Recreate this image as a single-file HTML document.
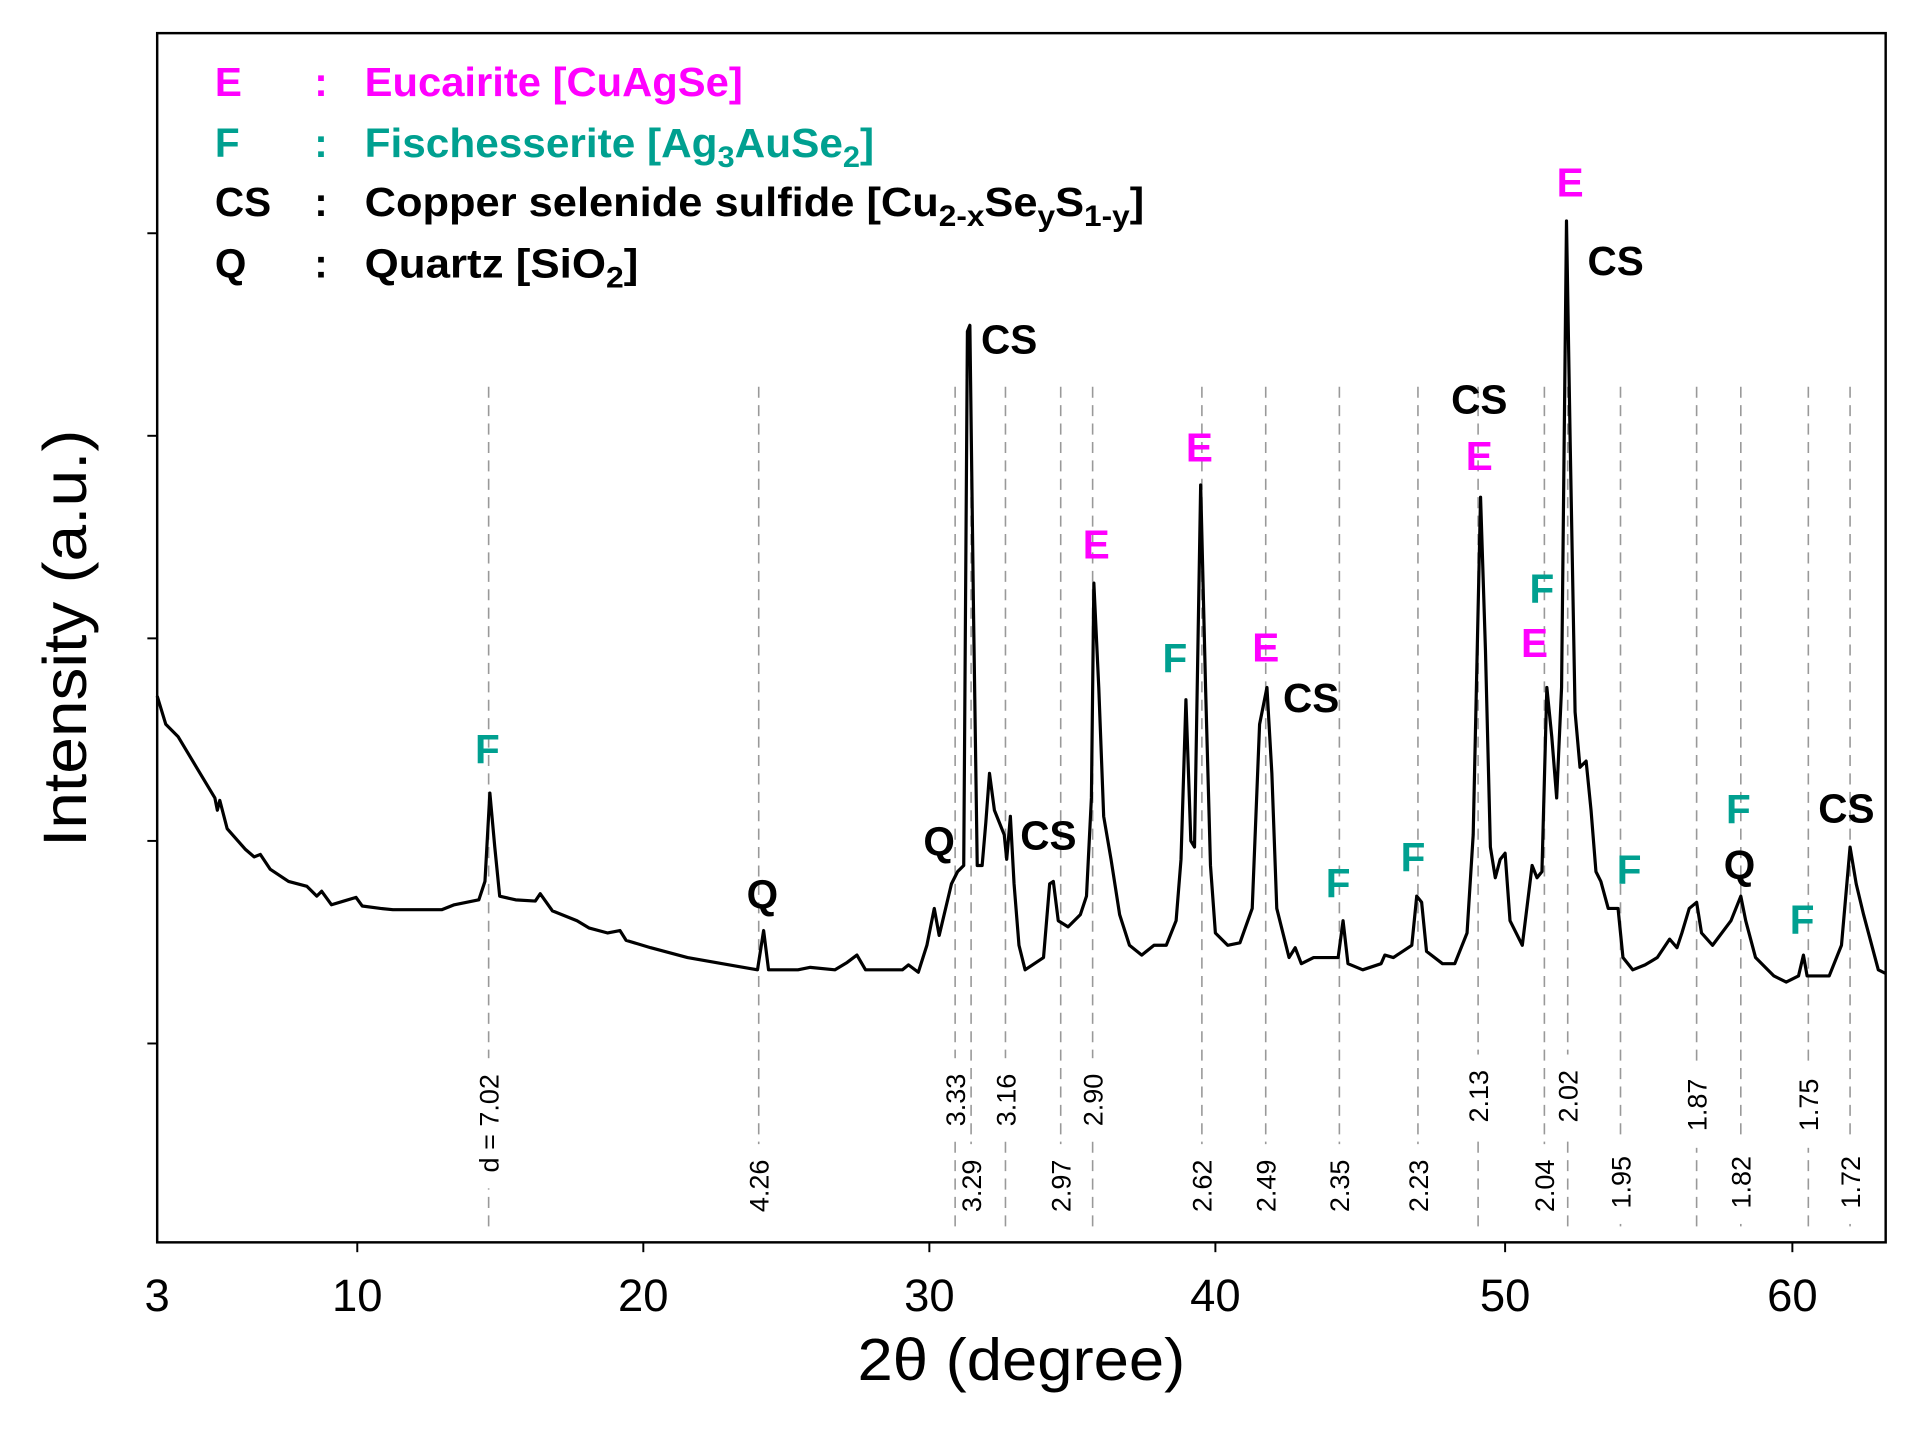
<!DOCTYPE html>
<html><head><meta charset="utf-8"><style>html,body{margin:0;padding:0;background:#fff}svg{display:block}</style></head>
<body>
<svg width="1925" height="1433" viewBox="0 0 1568 1167.3" xmlns="http://www.w3.org/2000/svg" font-family="Liberation Sans, sans-serif">
<rect x="128" y="27" width="1408" height="985" fill="none" stroke="#000" stroke-width="2"/>
<g stroke="#000" stroke-width="1.6">
<line x1="120" y1="190" x2="128" y2="190"/><line x1="120" y1="355" x2="128" y2="355"/><line x1="120" y1="520" x2="128" y2="520"/><line x1="120" y1="685" x2="128" y2="685"/><line x1="120" y1="850" x2="128" y2="850"/>
<line x1="291" y1="1012" x2="291" y2="1020"/><line x1="524" y1="1012" x2="524" y2="1020"/><line x1="757" y1="1012" x2="757" y2="1020"/><line x1="990" y1="1012" x2="990" y2="1020"/><line x1="1226" y1="1012" x2="1226" y2="1020"/><line x1="1460" y1="1012" x2="1460" y2="1020"/>
</g>
<g font-size="37" text-anchor="middle">
<text x="128" y="1068">3</text><text x="291" y="1068">10</text><text x="524" y="1068">20</text><text x="757" y="1068">30</text><text x="990" y="1068">40</text><text x="1226" y="1068">50</text><text x="1460" y="1068">60</text>
</g>
<text x="832" y="1124" font-size="48" text-anchor="middle" textLength="267" lengthAdjust="spacingAndGlyphs">2θ (degree)</text>
<text transform="translate(70,520) rotate(-90)" font-size="50" text-anchor="middle" textLength="340" lengthAdjust="spacingAndGlyphs">Intensity (a.u.)</text>
<g stroke="#999" stroke-width="1.3" stroke-dasharray="9,6">
<line x1="398" y1="315" x2="398" y2="1005"/><line x1="618" y1="315" x2="618" y2="1005"/><line x1="778" y1="315" x2="778" y2="1005"/><line x1="791" y1="315" x2="791" y2="1005"/><line x1="819" y1="315" x2="819" y2="1005"/><line x1="864" y1="315" x2="864" y2="1005"/><line x1="890" y1="315" x2="890" y2="1005"/><line x1="979" y1="315" x2="979" y2="1005"/><line x1="1031" y1="315" x2="1031" y2="1005"/><line x1="1091" y1="315" x2="1091" y2="1005"/><line x1="1155" y1="315" x2="1155" y2="1005"/><line x1="1204" y1="315" x2="1204" y2="1005"/><line x1="1258" y1="315" x2="1258" y2="1005"/><line x1="1277" y1="315" x2="1277" y2="1005"/><line x1="1320" y1="315" x2="1320" y2="1005"/><line x1="1382" y1="315" x2="1382" y2="1005"/><line x1="1418" y1="315" x2="1418" y2="1005"/><line x1="1473" y1="315" x2="1473" y2="1005"/><line x1="1507" y1="315" x2="1507" y2="1005"/>
</g>
<g font-size="22" text-anchor="middle" fill="#000">
<rect x="386" y="862" width="24" height="106" fill="#fff"/>
<text transform="translate(406,915) rotate(-90)">d = 7.02</text>
<g stroke="none">
<rect x="766" y="862" width="24" height="68" fill="#fff"/><rect x="807" y="862" width="24" height="68" fill="#fff"/><rect x="878" y="862" width="24" height="68" fill="#fff"/><rect x="1192" y="859" width="24" height="68" fill="#fff"/><rect x="1265" y="859" width="24" height="68" fill="#fff"/><rect x="1370" y="867" width="24" height="68" fill="#fff"/><rect x="1461" y="867" width="24" height="68" fill="#fff"/>
<rect x="606" y="932" width="24" height="68" fill="#fff"/><rect x="779" y="932" width="24" height="68" fill="#fff"/><rect x="852" y="932" width="24" height="68" fill="#fff"/><rect x="967" y="932" width="24" height="68" fill="#fff"/><rect x="1019" y="932" width="24" height="68" fill="#fff"/><rect x="1079" y="932" width="24" height="68" fill="#fff"/><rect x="1143" y="932" width="24" height="68" fill="#fff"/><rect x="1246" y="932" width="24" height="68" fill="#fff"/><rect x="1308" y="929" width="24" height="68" fill="#fff"/><rect x="1406" y="929" width="24" height="68" fill="#fff"/><rect x="1495" y="929" width="24" height="68" fill="#fff"/>
</g>
<text transform="translate(786,896) rotate(-90)">3.33</text><text transform="translate(827,896) rotate(-90)">3.16</text><text transform="translate(898,896) rotate(-90)">2.90</text><text transform="translate(1212,893) rotate(-90)">2.13</text><text transform="translate(1285,893) rotate(-90)">2.02</text><text transform="translate(1390,900) rotate(-90)">1.87</text><text transform="translate(1481,900) rotate(-90)">1.75</text>
<text transform="translate(626,966) rotate(-90)">4.26</text><text transform="translate(799,966) rotate(-90)">3.29</text><text transform="translate(872,966) rotate(-90)">2.97</text><text transform="translate(987,966) rotate(-90)">2.62</text><text transform="translate(1039,966) rotate(-90)">2.49</text><text transform="translate(1099,966) rotate(-90)">2.35</text><text transform="translate(1163,966) rotate(-90)">2.23</text><text transform="translate(1266,966) rotate(-90)">2.04</text><text transform="translate(1328,963) rotate(-90)">1.95</text><text transform="translate(1426,963) rotate(-90)">1.82</text><text transform="translate(1515,963) rotate(-90)">1.72</text>
</g>
<polyline fill="none" stroke="#000" stroke-width="2.6" stroke-linejoin="round" points="128,567 135,590 145,600 160,625 175,650 177,660 179,652 185,675 200,692 207,698 212,696 220,708 235,718 250,722 258,730 262,726 270,737 280,734 290,731 295,738 310,740 320,741 360,741 370,737 390,733 395,718 399,646 403,690 407,730 420,733 436,734 440,728 450,742 470,750 480,756 495,760 505,758 510,766 530,772 560,780 600,787 617,790 622,758 626,790 650,790 660,788 680,790 690,784 698,778 705,790 735,790 740,786 748,792 755,770 761,740 765,762 775,720 780,710 785,705 788,270 790,265 793,500 796,705 800,705 803,670 806,630 810,660 814,670 818,680 820,700 823,665 826,720 830,770 835,790 850,780 855,720 858,718 862,750 870,755 880,745 885,730 889,650 891,475 895,560 899,665 905,700 912,745 920,770 930,778 940,770 950,770 958,750 962,700 966,570 970,685 973,690 978,395 982,560 986,705 990,760 1000,770 1010,768 1020,740 1026,590 1032,560 1036,630 1040,740 1050,780 1055,772 1060,785 1070,780 1090,780 1094,750 1098,785 1110,790 1125,785 1128,778 1135,780 1150,770 1154,730 1158,735 1162,775 1175,785 1185,785 1195,760 1200,680 1206,405 1210,530 1214,690 1218,715 1222,700 1226,695 1230,750 1240,770 1248,705 1252,715 1256,710 1260,560 1264,600 1268,650 1272,560 1276,180 1279,360 1283,580 1287,625 1292,620 1296,660 1300,710 1304,718 1310,740 1318,740 1322,780 1330,790 1340,786 1350,780 1360,765 1366,772 1370,760 1376,740 1382,735 1386,760 1395,770 1410,750 1418,730 1422,750 1430,780 1440,790 1445,795 1455,800 1465,795 1469,778 1472,795 1490,795 1500,770 1507,690 1512,720 1518,745 1530,790 1536,793"/>
<g font-size="33" font-weight="bold" text-anchor="middle">
<g fill="#ff00ff"><text x="893" y="455">E</text><text x="977" y="376">E</text><text x="1031" y="539">E</text><text x="1205" y="383">E</text><text x="1250" y="535">E</text><text x="1279" y="160">E</text></g>
<g fill="#00a090"><text x="397" y="622">F</text><text x="957" y="548">F</text><text x="1090" y="731">F</text><text x="1151" y="710">F</text><text x="1256" y="491">F</text><text x="1327" y="720">F</text><text x="1416" y="671">F</text><text x="1468" y="761">F</text></g>
<g fill="#000"><text x="822" y="288">CS</text><text x="854" y="692">CS</text><text x="1068" y="580">CS</text><text x="1205" y="337">CS</text><text x="1316" y="224">CS</text><text x="1504" y="670">CS</text><text x="621" y="740">Q</text><text x="765" y="697">Q</text><text x="1417" y="716">Q</text></g>
</g>
<g font-size="33" font-weight="bold">
<g fill="#ff00ff"><text x="175" y="78">E</text><text x="256" y="78">:</text><text x="297" y="78" textLength="308" lengthAdjust="spacingAndGlyphs">Eucairite [CuAgSe]</text></g>
<g fill="#00a090"><text x="175" y="128">F</text><text x="256" y="128">:</text><text x="297" y="128" textLength="415" lengthAdjust="spacingAndGlyphs">Fischesserite [Ag<tspan font-size="24" dy="8">3</tspan><tspan dy="-8">AuSe</tspan><tspan font-size="24" dy="8">2</tspan><tspan dy="-8">]</tspan></text></g>
<g fill="#000"><text x="175" y="176">CS</text><text x="256" y="176">:</text><text x="297" y="176" textLength="635" lengthAdjust="spacingAndGlyphs">Copper selenide sulfide [Cu<tspan font-size="24" dy="8">2-x</tspan><tspan dy="-8">Se</tspan><tspan font-size="24" dy="8">y</tspan><tspan dy="-8">S</tspan><tspan font-size="24" dy="8">1-y</tspan><tspan dy="-8">]</tspan></text>
<text x="175" y="226">Q</text><text x="256" y="226">:</text><text x="297" y="226" textLength="223" lengthAdjust="spacingAndGlyphs">Quartz [SiO<tspan font-size="24" dy="8">2</tspan><tspan dy="-8">]</tspan></text></g>
</g>
</svg>
</body></html>
